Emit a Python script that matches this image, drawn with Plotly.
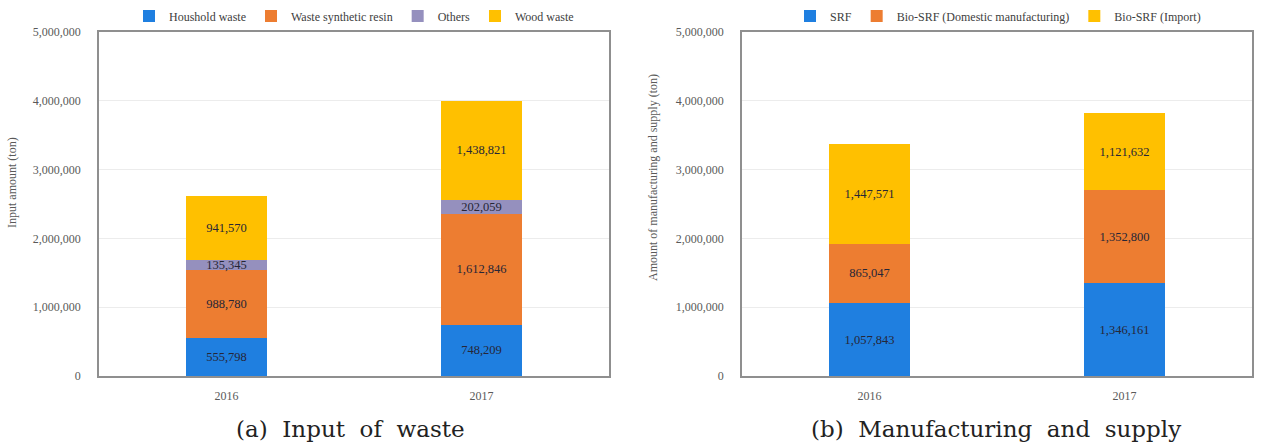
import plotly.graph_objects as go

years = ["2016", "2017"]

# (a) Input of waste
waste_names = ["Houshold waste", "Waste synthetic resin", "Others", "Wood waste"]
household = [555798, 748209]
synthetic_resin = [988780, 1612846]
others = [135345, 202059]
wood = [941570, 1438821]

# (b) Manufacturing and supply
supply_names = ["SRF", "Bio-SRF (Domestic manufacturing)", "Bio-SRF (Import)"]
srf = [1057843, 1346161]
bio_domestic = [865047, 1352800]
bio_import = [1447571, 1121632]

y_ticks = [0, 1000000, 2000000, 3000000, 4000000, 5000000]

BLUE = "#1F7FE0"
ORANGE = "#ED7D31"
PURPLE = "#9590BE"
YELLOW = "#FFC000"

W, H = 1272, 444
TOP, BOTTOM = 32, 376
PH = BOTTOM - TOP

def px_x(x):
    return x / W

def px_y(y):
    return (BOTTOM - y) / PH

SERIF = "Liberation Serif"

fig = go.Figure()

left_series = [(waste_names[0], household, BLUE), (waste_names[1], synthetic_resin, ORANGE),
               (waste_names[2], others, PURPLE), (waste_names[3], wood, YELLOW)]
for name, vals, col in left_series:
    fig.add_trace(go.Bar(
        x=years, y=vals, name=name, marker=dict(color=col, line=dict(width=0)),
        xaxis="x", yaxis="y", legend="legend",
        texttemplate="%{y:,}", textposition="inside", insidetextanchor="middle",
        textangle=0, textfont=dict(family=SERIF, size=12.5, color="#262637"),
        cliponaxis=False, hoverinfo="x+y+name",
    ))

right_series = [(supply_names[0], srf, BLUE), (supply_names[1], bio_domestic, ORANGE),
                (supply_names[2], bio_import, YELLOW)]
for name, vals, col in right_series:
    fig.add_trace(go.Bar(
        x=years, y=vals, name=name, marker=dict(color=col, line=dict(width=0)),
        xaxis="x2", yaxis="y2", legend="legend2",
        texttemplate="%{y:,}", textposition="inside", insidetextanchor="middle",
        textangle=0, textfont=dict(family=SERIF, size=12.5, color="#262637"),
        cliponaxis=False, hoverinfo="x+y+name",
    ))

xcommon = dict(showline=True, mirror=True, linecolor="#8f8f8f", linewidth=1.5,
               showgrid=False, ticks="", ticklabelstandoff=8,
               tickfont=dict(family=SERIF, size=12, color="#595959"), fixedrange=True)
ycommon = dict(range=[0, 5000000], tickvals=y_ticks, tickformat=",",
               showline=True, mirror=True, linecolor="#8f8f8f", linewidth=1.5,
               showgrid=True, gridcolor="#ececec", gridwidth=1, zeroline=False,
               ticks="", ticklabelstandoff=14,
               tickfont=dict(family=SERIF, size=12, color="#595959"), fixedrange=True)

legcommon = dict(orientation="h", xanchor="center", yanchor="middle", y=1 + 16 / PH,
                 font=dict(family=SERIF, size=12, color="#404040"),
                 bgcolor="rgba(0,0,0,0)", itemwidth=30, itemclick=False,
                 itemdoubleclick=False, tracegroupgap=0, traceorder="normal")

fig.update_layout(
    width=W, height=H,
    margin=dict(l=0, r=0, t=TOP, b=H - BOTTOM),
    barmode="stack", bargap=0.685,
    plot_bgcolor="white", paper_bgcolor="white",
    xaxis=dict(domain=[px_x(99), px_x(609)], **xcommon),
    yaxis=dict(anchor="x", **ycommon),
    xaxis2=dict(domain=[px_x(742), px_x(1252)], anchor="y2", **xcommon),
    yaxis2=dict(anchor="x2", **ycommon),
    legend=dict(x=px_x(354), **legcommon),
    legend2=dict(x=px_x(998), **legcommon),
    uniformtext=dict(minsize=12.5, mode="show"),
    showlegend=True,
)

CAP = "DejaVu Serif"
annotations = [
    dict(text="Input amount (ton)", x=px_x(12), y=px_y(183), textangle=-90,
         font=dict(family=SERIF, size=12, color="#595959")),
    dict(text="Amount of manufacturing and supply (ton)", x=px_x(653), y=px_y(178), textangle=-90,
         font=dict(family=SERIF, size=12, color="#595959")),
    dict(text="(a)  Input  of  waste", x=px_x(350), y=px_y(429),
         font=dict(family=CAP, size=23, color="#222222")),
    dict(text="(b)  Manufacturing  and  supply", x=px_x(996), y=px_y(429),
         font=dict(family=CAP, size=23, color="#222222")),
]
for a in annotations:
    a.update(xref="paper", yref="paper", showarrow=False, xanchor="center", yanchor="middle")
fig.update_layout(annotations=annotations)

fig.write_html("out.html", config={"displayModeBar": False})
